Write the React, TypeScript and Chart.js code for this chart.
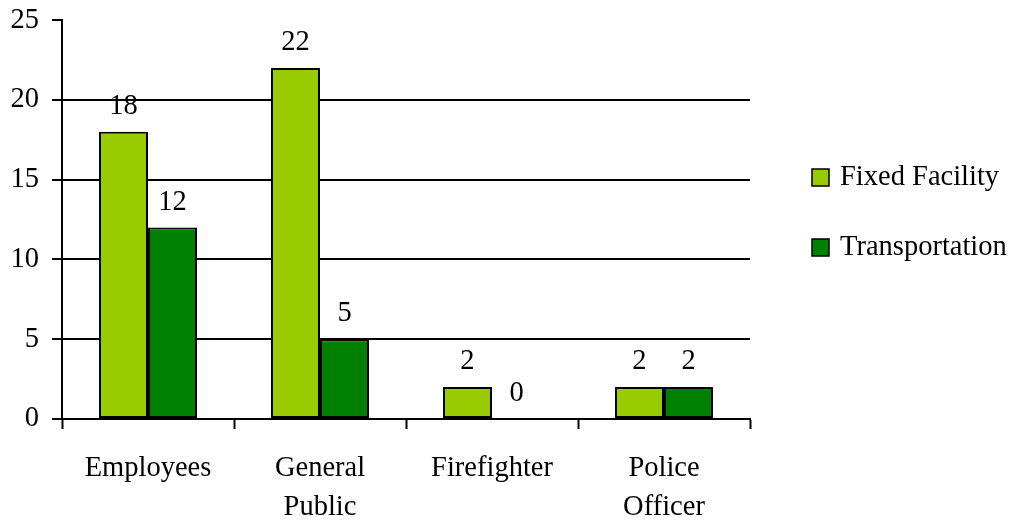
import React, { useEffect, useRef } from "react";
import { Chart, registerables } from "chart.js";

Chart.register(...registerables);

const categories: (string | string[])[] = ["Employees", ["General", "Public"], "Firefighter", ["Police", "Officer"]];
const fixedFacility = [18, 22, 2, 2];
const transportation = [12, 5, 0, 2];
const seriesNames = ["Fixed Facility", "Transportation"];
const seriesColors = ["#99CC00", "#008000"];

const FONT = "Liberation Serif";
const FONT_SIZE = 28.5;

// Writes each bar's value just above its top edge
const valueLabels = {
  id: "valueLabels",
  afterDatasetsDraw(chart: any) {
    const ctx = chart.ctx;
    ctx.save();
    ctx.font = `${FONT_SIZE}px "${FONT}"`;
    ctx.fillStyle = "#000";
    ctx.textAlign = "center";
    ctx.textBaseline = "bottom";
    chart.data.datasets.forEach((ds: any, di: number) => {
      const meta = chart.getDatasetMeta(di);
      meta.data.forEach((bar: any, i: number) => {
        ctx.fillText(String(ds.data[i]), bar.x, bar.y - 11);
      });
    });
    ctx.restore();
  },
};

// Legend to the right of the plot: square swatch plus series name
const sideLegend = {
  id: "sideLegend",
  afterDraw(chart: any) {
    const ctx = chart.ctx;
    ctx.save();
    ctx.font = `${FONT_SIZE}px "${FONT}"`;
    ctx.textBaseline = "middle";
    ctx.textAlign = "left";
    const x = 812;
    chart.data.datasets.forEach((ds: any, di: number) => {
      const cy = 177 + di * 70;
      ctx.fillStyle = ds.backgroundColor;
      ctx.fillRect(x, cy - 8, 17, 17);
      ctx.strokeStyle = "#000";
      ctx.lineWidth = 1.5;
      ctx.strokeRect(x, cy - 8, 17, 17);
      ctx.fillStyle = "#000";
      ctx.fillText(ds.label, x + 28, cy + 1);
    });
    ctx.restore();
  },
};

export default function App() {
  const canvasRef = useRef<HTMLCanvasElement | null>(null);

  useEffect(() => {
    if (!canvasRef.current) return;
    const chart = new Chart(canvasRef.current, {
      type: "bar",
      data: {
        labels: categories,
        datasets: [
          {
            label: seriesNames[0],
            data: fixedFacility,
            backgroundColor: seriesColors[0],
            borderColor: "#000",
            borderWidth: 2,
            borderSkipped: false,
          },
          {
            label: seriesNames[1],
            data: transportation,
            backgroundColor: seriesColors[1],
            borderColor: "#000",
            borderWidth: 2,
            borderSkipped: false,
          },
        ],
      },
      options: {
        responsive: false,
        animation: false,
        devicePixelRatio: 1,
        layout: { padding: { top: 19, right: 266, left: 0, bottom: 0 } },
        datasets: { bar: { categoryPercentage: 0.57, barPercentage: 1 } },
        plugins: {
          legend: { display: false },
          tooltip: { enabled: false },
        },
        scales: {
          x: {
            grid: {
              offset: true,
              drawOnChartArea: false,
              drawTicks: true,
              tickLength: 10,
              tickWidth: 2,
              tickColor: "#000",
            },
            border: { display: true, color: "#000", width: 2 },
            ticks: {
              color: "#000",
              font: { family: FONT, size: FONT_SIZE, lineHeight: 1.37 },
              padding: 20,
              maxRotation: 0,
              autoSkip: false,
            },
            afterFit(scale: any) {
              scale.height = 103;
            },
          },
          y: {
            min: 0,
            max: 25,
            ticks: {
              stepSize: 5,
              color: "#000",
              font: { family: FONT, size: FONT_SIZE, lineHeight: 0.5 },
              padding: 13,
            },
            grid: {
              color: (c: any) => (c.tick && (c.tick.value === 0 || c.tick.value === 25) ? "rgba(0,0,0,0)" : "#000"),
              lineWidth: 2,
              drawTicks: true,
              tickLength: 10,
              tickColor: "#000",
              tickWidth: 2,
            },
            border: { display: true, color: "#000", width: 2 },
            afterFit(scale: any) {
              scale.width = 62;
            },
          },
        },
      },
      plugins: [valueLabels, sideLegend],
    });
    return () => chart.destroy();
  }, []);

  return (
    <div style={{ position: "fixed", left: 0, top: 0, width: 1016, height: 522, background: "#fff" }}>
      <canvas ref={canvasRef} width={1016} height={522} style={{ display: "block" }} />
    </div>
  );
}
